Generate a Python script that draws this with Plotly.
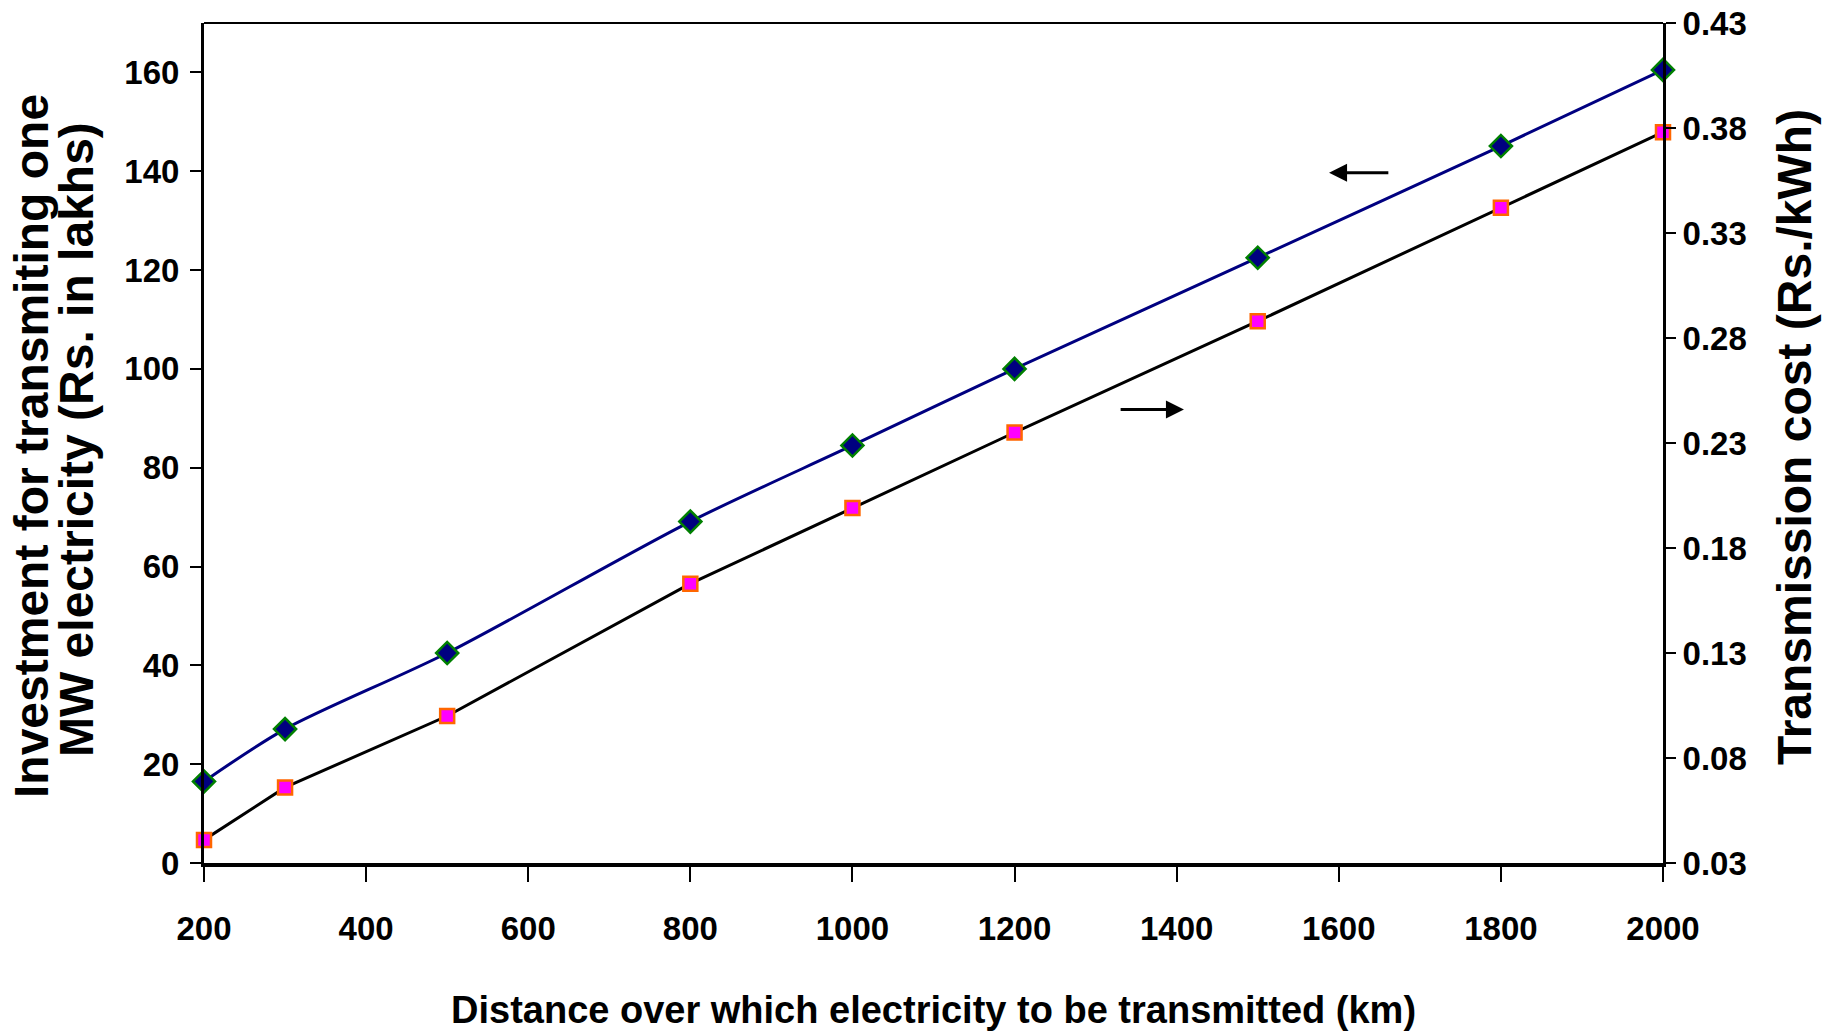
import plotly.graph_objects as go

# Distance over which electricity is transmitted (km)
distance_km = [200, 300, 500, 800, 1000, 1200, 1500, 1800, 2000]
# Investment for transmitting one MW (Rs. in lakhs) - left axis
investment_lakhs = [16.5, 27.1, 42.5, 69.1, 84.5, 100.0, 122.5, 145.1, 160.5]
# Transmission cost (Rs./kWh) - right axis
transmission_cost = [0.041, 0.066, 0.100, 0.163, 0.199, 0.235, 0.288, 0.342, 0.378]

left_ticks = [0, 20, 40, 60, 80, 100, 120, 140, 160]
right_ticks = [0.03, 0.08, 0.13, 0.18, 0.23, 0.28, 0.33, 0.38, 0.43]
x_ticks = [200, 400, 600, 800, 1000, 1200, 1400, 1600, 1800, 2000]

FONT = "Liberation Sans, Arial, sans-serif"

fig = go.Figure()

fig.add_trace(go.Scatter(
    x=distance_km, y=investment_lakhs, mode="lines+markers",
    line=dict(color="#000080", width=3, shape="spline", smoothing=0.8),
    marker=dict(symbol="diamond", size=17, color="#000080",
                line=dict(color="#008000", width=2.5)),
    cliponaxis=False, showlegend=False, yaxis="y",
))

fig.add_trace(go.Scatter(
    x=distance_km, y=transmission_cost, mode="lines+markers",
    line=dict(color="#000000", width=3),
    marker=dict(symbol="square", size=14, color="#FF00FF",
                line=dict(color="#FF6600", width=2.5)),
    cliponaxis=False, showlegend=False, yaxis="y2",
))

tick_font = dict(family=FONT, size=33, color="#000000", weight="bold")
title_font = dict(family=FONT, size=48, color="black", weight="bold")

fig.update_layout(
    width=1829, height=1035,
    margin=dict(l=204, r=166, t=23, b=172),
    paper_bgcolor="white", plot_bgcolor="white",
    xaxis=dict(
        range=[200, 2000], tickvals=x_ticks, ticks="outside", ticklen=15,
        tickwidth=2, tickcolor="black", showline=True, linecolor="black",
        linewidth=4, showgrid=False, zeroline=False, tickfont=tick_font,
        ticklabelstandoff=18, automargin=False,
    ),
    yaxis=dict(
        range=[0, 170], tickvals=left_ticks, ticks="outside", ticklen=11,
        tickwidth=2, tickcolor="black", showline=True, linecolor="black",
        linewidth=3, showgrid=False, zeroline=False, tickfont=tick_font,
        ticklabelstandoff=4, automargin=False,
    ),
    yaxis2=dict(
        range=[0.03, 0.43], tickvals=right_ticks, tickformat=".2f",
        overlaying="y", side="right", ticks="outside", ticklen=10,
        tickwidth=2, tickcolor="black", showline=True, linecolor="black",
        linewidth=3, showgrid=False, zeroline=False, tickfont=tick_font,
        ticklabelstandoff=0, automargin=False,
    ),
    shapes=[
        # top frame of the plot area
        dict(type="line", xref="paper", yref="paper", x0=0, x1=1, y0=1, y1=1,
             line=dict(color="black", width=2)),
    ],
    annotations=[
        dict(text="Investment for transmiting one",
             xref="paper", yref="paper", x=0, xshift=-173, y=0.5, yshift=-3,
             xanchor="center", yanchor="middle", textangle=-90,
             showarrow=False, font=title_font),
        dict(text="MW electricity (Rs. in lakhs)",
             xref="paper", yref="paper", x=0, xshift=-128, y=0.5, yshift=3,
             xanchor="center", yanchor="middle", textangle=-90,
             showarrow=False, font=title_font),
        dict(text="Transmission cost (Rs./kWh)",
             xref="paper", yref="paper", x=1.0, xshift=131, y=0.5, yshift=6,
             xanchor="center", yanchor="middle", textangle=-90,
             showarrow=False, font=title_font),
        dict(text="Distance over which electricity to be transmitted (km)",
             xref="paper", yref="paper", x=0.5, y=0, yshift=-147,
             xanchor="center", yanchor="middle", showarrow=False,
             font=dict(family=FONT, size=38, color="black", weight="bold")),
        # arrow pointing to the left axis (investment curve)
        dict(x=1588, y=139.7, ax=1663, ay=139.7, xref="x", yref="y",
             axref="x", ayref="y", text="", showarrow=True, arrowhead=2,
             arrowsize=1.2, arrowwidth=3, arrowcolor="black"),
        # arrow pointing to the right axis (transmission cost curve)
        dict(x=1409, y=91.8, ax=1329, ay=91.8, xref="x", yref="y",
             axref="x", ayref="y", text="", showarrow=True, arrowhead=2,
             arrowsize=1.2, arrowwidth=3, arrowcolor="black"),
    ],
)

fig.write_html("out.html")
